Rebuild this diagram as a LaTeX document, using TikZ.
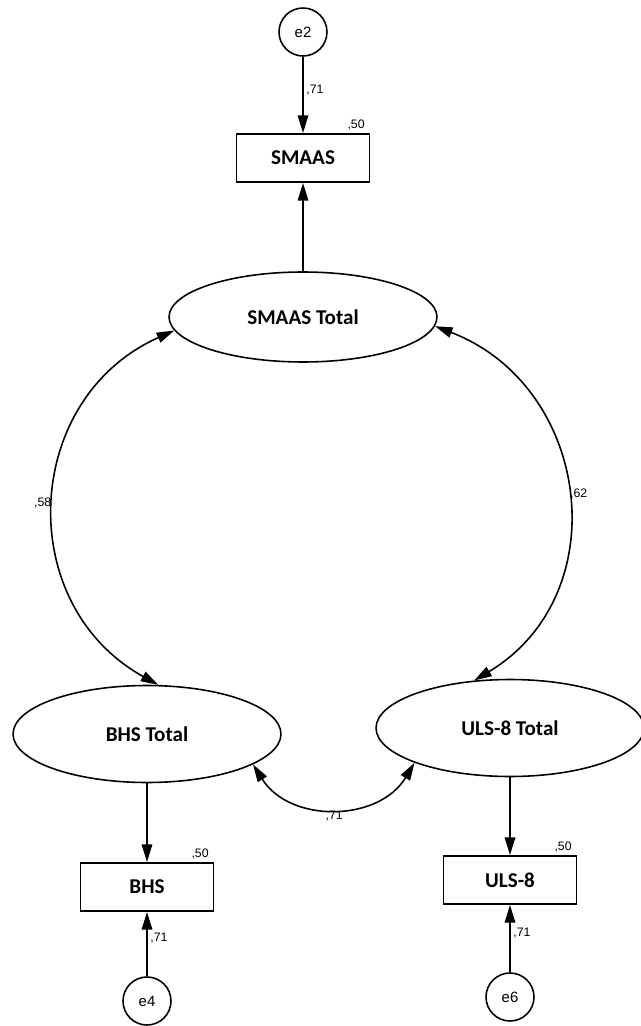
\documentclass[tikz,border=0pt]{standalone}
\usepackage{fontspec}
\setmainfont{Liberation Sans}
\newfontfamily\calibri{Carlito}
\usetikzlibrary{shapes.geometric,arrows.meta}

\tikzset{
  latent/.style={ellipse, draw, line width=0.9pt, inner sep=0pt,
    minimum width=5.36cm, minimum height=1.94cm,
    font=\calibri\bfseries\fontsize{12}{14}\selectfont},
  observed/.style={rectangle, draw, line width=0.9pt,
    minimum width=2.66cm, minimum height=0.97cm,
    font=\calibri\bfseries\fontsize{12}{14}\selectfont},
  errnode/.style={circle, draw, line width=0.9pt, inner sep=0pt,
    minimum size=0.96cm, font=\fontsize{8.5}{10}\selectfont},
  coef/.style={font=\fontsize{7}{8}\selectfont, inner sep=1.5pt},
  regpath/.style={line width=0.9pt, -{Triangle[length=10pt,width=6pt]}},
  covpath/.style={line width=0.9pt, looseness=1.2,
    {Triangle[length=10pt,width=6pt]}-{Triangle[length=10pt,width=6pt]}}
}

\begin{document}
\begin{tikzpicture}[x=0.02cm, y=-0.02cm]

    \useasboundingbox (0,0) rectangle (640,1026);

    % Latent variables
    \node[latent, minimum height=1.8cm] (smaasT) at (303,317) {SMAAS Total};
    \node[latent] (bhsT) at (147,734) {BHS Total};
    \node[latent] (ulsT) at (510,728) {ULS-8 Total};

    % Observed variables
    \node[observed] (smaas) at (303,158) {SMAAS};
    \node[observed] (bhs) at (147,887) {BHS};
    \node[observed] (uls) at (510,880) {ULS-8};

    % Error terms
    \node[errnode] (e2) at (303,32) {e2};
    \node[errnode] (e4) at (147,1001) {e4};
    \node[errnode] (e6) at (510,997) {e6};

    % Loadings and error paths
    \foreach \lat/\obs/\err/\p in {smaasT/smaas/e2/0.44, bhsT/bhs/e4/0.59, ulsT/uls/e6/0.59}
    {
        \draw[regpath] (\lat) -- (\obs);
        \draw[regpath] (\err) -- node[coef, right, pos=\p] (c\err) {,71} (\obs);
        \node[coef, anchor=south east] (r\obs) at ([xshift=-1.5pt]\obs.north east) {,50};
    }

    % Covariances
    \draw[covpath] (smaasT.186) to[out=204, in=151]
        node[coef, left] (c58) {,58} (bhsT.77);
    \draw[covpath] (smaasT.356) to[out=339, in=31]
        node[coef, right] (c62) {,62} (ulsT.127);
    \draw[covpath, looseness=1.1] (bhsT.344) to[out=302, in=239]
        node[coef, below] (c71) {,71} (ulsT.200);

\end{tikzpicture}
\end{document}
